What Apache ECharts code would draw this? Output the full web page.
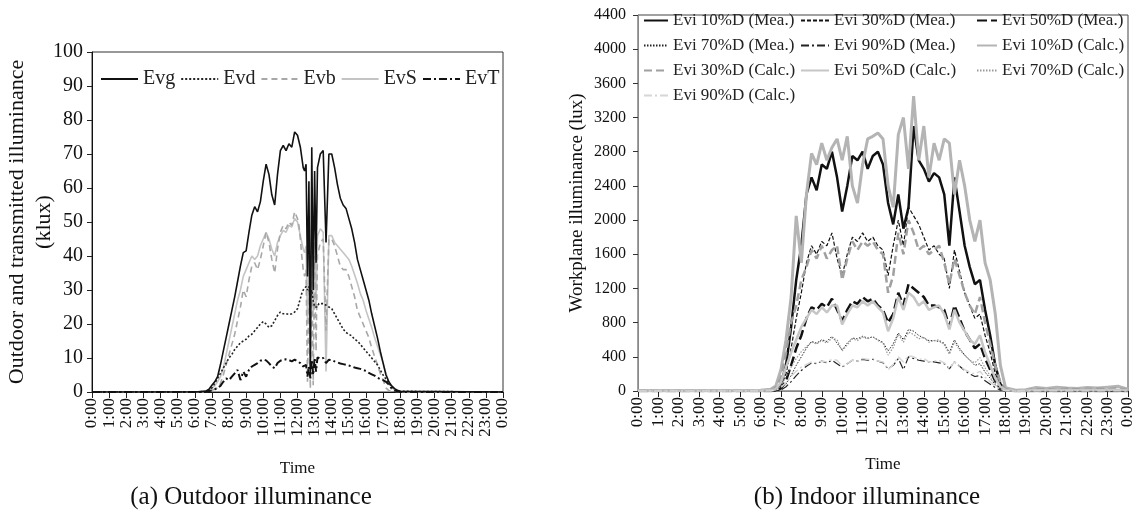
<!DOCTYPE html>
<html>
<head>
<meta charset="utf-8">
<script src="https://cdn.jsdelivr.net/npm/echarts@6/dist/echarts.min.js"></script>
<style>
  html, body { margin: 0; padding: 0; background: #fff; }
  #main { width: 1137px; height: 513px; }
</style>
</head>
<body>
<div id="main"></div>
<script>
// ---- (a) outdoor illuminance, klux; time in minutes of the day ----
var timeA = [0, 360,
  400, 410, 420, 430, 440, 450, 460, 470, 480, 490, 500, 510, 520, 530, 540, 550, 560, 570, 580, 590, 600, 610, 620, 630, 640, 650, 660, 670, 680, 690, 700, 710, 720,
  725, 730, 735, 740, 745, 750, 755, 760, 765, 770, 775, 780, 785, 790, 795, 800,
  810, 820, 830, 840, 850, 860, 870, 880, 890, 900, 910, 920, 930, 940, 950, 960, 970, 980, 990, 1000, 1010, 1020, 1030, 1040, 1050, 1060, 1070, 1080,
  1440];
var evg = [0, 0,
  0.3, 0.8, 2.0, 3.0, 4.5, 8, 12, 16, 20, 24, 28, 32.5, 37, 41, 41.5, 47, 52, 54.5, 53, 56, 62, 67, 64, 58, 55, 64, 71, 72.5, 71, 73, 72, 76.5, 75.5,
  75, 72, 69, 66, 65, 67, 34, 62, 5, 72, 30, 65, 38, 66, 68, 70,
  71, 44, 70, 70, 66, 61, 57, 55, 54, 51, 48, 44, 39, 36, 33, 30, 27, 23, 19.5, 16, 12, 8.5, 5, 3, 1.8, 1, 0.5, 0.2,
  0];
var evd = [0, 0,
  0.2, 0.5, 1.2, 2.5, 4, 5.5, 7, 8.5, 10, 11, 12.5, 13.5, 14.5, 15, 15.5, 16.5, 17, 18, 19, 20, 20.7, 20, 19, 19.5, 21, 22.5, 23.5, 23, 23, 22.8, 23, 23.5, 24.5,
  26, 27.5, 29, 30, 30.5, 31, 30, 31, 28, 30, 27, 25, 24.5, 25, 26, 26.5,
  26, 25.5, 25, 24.5, 23, 21.5, 20, 18.5, 17.5, 17, 16.5, 15.5, 15, 14, 13, 12, 11, 10, 9, 8, 6.5, 5, 3.8, 2.6, 1.6, 0.8, 0.4, 0.2,
  0];
var evb = [0, 0,
  0, 0.2, 0.5, 0.8, 1.2, 2.5, 5, 8, 11, 14, 17, 21, 25, 30, 28, 33, 37, 38, 36, 39, 43, 47, 44, 39, 35, 42, 47, 49, 48, 50, 49, 53, 51,
  49, 45, 40, 36, 34, 36, 3, 31, 1, 42, 2, 40, 12, 41, 42, 44,
  45, 18, 45, 45, 43, 40, 37, 36, 36, 34, 31, 28, 24, 22, 20, 18, 16, 13, 10.5, 8, 5.5, 3.5, 1.2, 0.4, 0.2, 0.2, 0.1, 0,
  0];
var evs = [0, 0,
  0.2, 0.5, 1, 1.8, 3, 4.5, 7, 11, 15, 19, 23, 27, 30, 34, 36, 38, 40, 39, 40, 43, 45, 47, 45, 42, 40, 44, 46, 47.5, 47, 49, 48.5, 51, 50,
  48, 46, 44, 42, 41, 43, 20, 40, 8, 46, 22, 44, 25, 46, 47, 48,
  47, 6, 46, 46, 44, 43, 42, 41, 40, 39, 37, 34.5, 32, 29, 27, 24, 21.5, 19, 16, 13.5, 11, 8.5, 5.5, 3, 1.5, 0.6, 0.3, 0.1,
  0];
var evt = [0, 0,
  0, 0.2, 0.5, 0.8, 1.2, 1.8, 3, 4, 3.5, 4.5, 5.5, 6.5, 3.5, 6, 4.5, 6.5, 7.5, 8, 8.5, 9.2, 9.5, 9.3, 8.5, 7.5, 7, 8.5, 9.2, 9.5, 9.6, 9.4, 9, 9.5, 9,
  8.8, 8.5, 8, 7.5, 7.8, 8, 4.5, 7.5, 4, 9.5, 5, 10, 6, 10.2, 10, 9.8,
  10, 8.5, 9.5, 9.4, 9, 8.7, 8.4, 8.2, 8, 7.8, 7.5, 7.2, 7, 6.8, 6.5, 6.2, 5.6, 5.2, 4.8, 4.2, 3.8, 3.5, 3, 2.2, 1, 0.4, 0.2, 0,
  0];

// ---- (b) indoor workplane illuminance, lux ----
var timeB = [0, 360,
  390, 405, 420, 435, 450, 465, 480, 495, 510, 525, 540, 555, 570, 585, 600, 615, 630, 645, 660, 675, 690, 705, 720,
  735, 750, 765, 780, 795, 810, 825, 840, 855, 870, 885, 900, 915, 930, 945, 960, 975, 990, 1005, 1020, 1035, 1050, 1065, 1080,
  1110, 1140, 1170, 1200, 1230, 1260, 1290, 1320, 1350, 1380, 1410, 1440];
var m10 = [0, 0,
  0, 10, 80, 300, 750, 1300, 1700, 2300, 2500, 2350, 2650, 2600, 2800, 2500, 2100, 2400, 2750, 2700, 2800, 2600, 2750, 2800, 2650,
  2200, 1950, 2300, 1900, 2150, 3100, 2700, 2600, 2450, 2550, 2500, 2300, 1700, 2500, 2100, 1700, 1450, 1250, 1300, 950, 650, 300, 80, 10,
  0, 0, 0, 0, 0, 0, 0, 0, 0, 0, 0, 0];
var m30 = [0, 0,
  0, 5, 50, 200, 500, 850, 1150, 1500, 1700, 1600, 1750, 1700, 1850, 1550, 1350, 1600, 1800, 1750, 1850, 1750, 1800, 1700, 1650,
  1350, 1700, 2000, 1700, 2150, 2050, 1950, 1800, 1650, 1700, 1600, 1550, 1200, 1650, 1400, 1150, 1000, 850, 900, 650, 450, 200, 50, 5,
  0, 0, 0, 0, 0, 0, 0, 0, 0, 0, 0, 0];
var m50 = [0, 0,
  0, 5, 30, 120, 300, 500, 650, 850, 980, 950, 1020, 980, 1080, 950, 820, 950, 1050, 1020, 1100, 1050, 1080, 1000, 950,
  800, 900, 1150, 1000, 1250, 1200, 1150, 1100, 1000, 1000, 980, 950, 750, 1000, 850, 700, 600, 500, 550, 380, 250, 110, 30, 5,
  0, 0, 0, 0, 0, 0, 0, 0, 0, 0, 0, 0];
var m70 = [0, 0,
  0, 3, 20, 80, 180, 300, 400, 500, 580, 560, 600, 580, 640, 560, 480, 560, 620, 610, 640, 620, 630, 600, 570,
  470, 550, 680, 600, 720, 700, 650, 620, 590, 590, 580, 560, 450, 600, 500, 420, 360, 300, 320, 220, 150, 70, 20, 3,
  0, 0, 0, 0, 0, 0, 0, 0, 0, 0, 0, 0];
var m90 = [0, 0,
  0, 2, 10, 50, 110, 180, 240, 290, 330, 320, 350, 330, 360, 320, 280, 320, 360, 350, 370, 360, 370, 350, 330,
  260, 300, 380, 250, 400, 380, 360, 350, 340, 340, 330, 320, 260, 340, 290, 240, 200, 170, 180, 120, 80, 40, 10, 2,
  0, 0, 0, 0, 0, 0, 0, 0, 0, 0, 0, 0];
var c10 = [5, 10,
  20, 60, 250, 600, 1100, 2050, 1500, 2300, 2780, 2650, 2900, 2700, 2850, 2950, 2700, 2980, 2400, 2200, 2650, 2950, 2980, 3020, 2950,
  2400, 2150, 3000, 3200, 2600, 3450, 2700, 3100, 2500, 2900, 2700, 2950, 2900, 2300, 2700, 2400, 2000, 1750, 2000, 1500, 1300, 900, 300, 40,
  10, 15, 40, 30, 45, 35, 30, 40, 35, 45, 55, 20];
var c30 = [5, 8,
  10, 40, 150, 450, 800, 1000, 1300, 1450, 1650, 1550, 1700, 1550, 1650, 1700, 1300, 1550, 1750, 1650, 1750, 1700, 1750, 1650, 1600,
  1150, 1350, 1850, 1600, 2000, 1850, 1650, 1700, 1600, 1650, 1700, 1500, 1250, 1550, 1350, 1150, 1000, 900, 1100, 800, 550, 300, 100, 20,
  5, 10, 20, 25, 15, 30, 20, 25, 30, 20, 35, 10];
var c50 = [3, 5,
  5, 20, 100, 280, 450, 600, 750, 850, 950, 900, 980, 920, 1000, 1000, 780, 900, 1000, 980, 1050, 1000, 1050, 980, 920,
  700, 850, 1100, 950, 1150, 1100, 1000, 1050, 950, 980, 1000, 900, 720, 950, 800, 700, 600, 550, 650, 450, 300, 150, 50, 10,
  3, 5, 10, 8, 12, 10, 8, 12, 10, 12, 15, 5];
var c70 = [0, 0,
  3, 15, 60, 170, 280, 380, 460, 520, 570, 550, 590, 560, 620, 600, 470, 540, 610, 590, 630, 610, 640, 590, 560,
  420, 510, 660, 570, 690, 660, 610, 630, 570, 590, 600, 540, 430, 570, 480, 420, 360, 330, 390, 270, 180, 90, 30, 5,
  0, 0, 0, 0, 0, 0, 0, 0, 0, 0, 0, 0];
var c90 = [0, 0,
  2, 10, 40, 100, 170, 230, 280, 310, 340, 330, 350, 340, 370, 360, 290, 320, 360, 350, 380, 370, 380, 350, 340,
  250, 310, 400, 340, 410, 400, 370, 380, 340, 350, 360, 330, 260, 340, 290, 250, 220, 200, 230, 160, 110, 55, 20, 3,
  0, 0, 0, 0, 0, 0, 0, 0, 0, 0, 0, 0];

var ticksA = [0, 10, 20, 30, 40, 50, 60, 70, 80, 90, 100];
var ticksB = [0, 400, 800, 1200, 1600, 2000, 2400, 2800, 3200, 3600, 4000, 4400];

var serif = '"Liberation Serif", "Times New Roman", serif';

function pairs(times, vals) {
  return times.map(function (t, i) { return [t, vals[i]]; });
}
function line(name, idx, times, vals, color, width, dash) {
  return {
    name: name, type: 'line', xAxisIndex: idx, yAxisIndex: idx,
    data: pairs(times, vals),
    symbol: 'none', showSymbol: false, animation: false,
    lineStyle: { color: color, width: width, type: dash },
    itemStyle: { color: color }
  };
}
function hourLabel(v) {
  return (Math.round(v / 60) % 24) + ':00';
}
function xAxisFor(idx, fs, gap) {
  return {
    gridIndex: idx, type: 'value', min: 0, max: 1440, interval: 60,
    name: 'Time', nameLocation: 'middle', nameGap: gap,
    nameTextStyle: { fontFamily: serif, fontSize: 17, color: '#111' },
    axisLine: { lineStyle: { color: idx === 0 ? '#111' : '#888', width: 1 } },
    axisTick: { length: 6, lineStyle: { color: '#222' } },
    axisLabel: { rotate: 90, margin: 6, fontFamily: serif, fontSize: fs, color: '#111', formatter: hourLabel },
    splitLine: { show: false }
  };
}
// legend icons: line only, no marker
var noMarker = { opacity: 0, color: 'rgba(0,0,0,0)', borderWidth: 0 };

var option = {
  backgroundColor: '#fff',
  animation: false,
  grid: [
    { left: 92, top: 52, width: 411, height: 340, show: true, borderColor: '#333', borderWidth: 1, outerBoundsMode: 'none' },
    { left: 638, top: 15, width: 490, height: 376, show: true, borderColor: '#444', borderWidth: 1, outerBoundsMode: 'none' }
  ],
  xAxis: [xAxisFor(0, 17, 68), xAxisFor(1, 17, 65)],
  yAxis: [
    {
      gridIndex: 0, type: 'value', min: ticksA[0], max: ticksA[ticksA.length - 1], interval: ticksA[1] - ticksA[0],
      name: 'Outdoor and transmitted illuminance\n(klux)', nameLocation: 'middle', nameGap: 34, nameMoveOverlap: false,
      nameTextStyle: { fontFamily: serif, fontSize: 22, lineHeight: 27, color: '#111' },
      axisLine: { show: true, lineStyle: { color: '#111' } },
      axisTick: { show: true, length: 5, lineStyle: { color: '#222' } },
      axisLabel: { margin: 9, fontFamily: serif, fontSize: 20, color: '#111' },
      splitLine: { show: false }
    },
    {
      gridIndex: 1, type: 'value', min: ticksB[0], max: ticksB[ticksB.length - 1], interval: ticksB[1] - ticksB[0],
      name: 'Workplane illuminance (lux)', nameLocation: 'middle', nameGap: 51, nameMoveOverlap: false,
      nameTextStyle: { fontFamily: serif, fontSize: 19, color: '#111' },
      axisLine: { show: true, lineStyle: { color: '#888' } },
      axisTick: { show: true, length: 5, lineStyle: { color: '#333' } },
      axisLabel: { margin: 12, fontFamily: serif, fontSize: 16, color: '#111', formatter: function (v) { return String(v); } },
      splitLine: { show: false }
    }
  ],
  legend: [
    {
      data: ['Evg', 'Evd', 'Evb', 'EvS', 'EvT'], left: 100, top: 69, padding: 0,
      itemWidth: 37, itemHeight: 14, itemGap: 5, itemStyle: noMarker,
      textStyle: { fontFamily: serif, fontSize: 20, color: '#222' }
    },
    {
      data: ['Evi 10%D (Mea.)', 'Evi 70%D (Mea.)', 'Evi 30%D (Calc.)', 'Evi 90%D (Calc.)'],
      orient: 'vertical', left: 643, top: 12, padding: 0, itemWidth: 24, itemHeight: 14, itemGap: 8, itemStyle: noMarker,
      textStyle: { fontFamily: serif, fontSize: 17, color: '#222' }
    },
    {
      data: ['Evi 30%D (Mea.)', 'Evi 90%D (Mea.)', 'Evi 50%D (Calc.)'],
      orient: 'vertical', left: 800, top: 12, padding: 0, itemWidth: 28, itemHeight: 14, itemGap: 8, itemStyle: noMarker,
      textStyle: { fontFamily: serif, fontSize: 17, color: '#222' }
    },
    {
      data: ['Evi 50%D (Mea.)', 'Evi 10%D (Calc.)', 'Evi 70%D (Calc.)'],
      orient: 'vertical', left: 976, top: 12, padding: 0, itemWidth: 20, itemHeight: 14, itemGap: 8, itemStyle: noMarker,
      textStyle: { fontFamily: serif, fontSize: 17, color: '#222' }
    }
  ],
  graphic: [
    { type: 'text', x: 251, y: 497, style: { text: '(a) Outdoor illuminance', fontFamily: serif, fontSize: 25, fill: '#111', align: 'center', verticalAlign: 'middle' } },
    { type: 'text', x: 867, y: 497, style: { text: '(b) Indoor illuminance', fontFamily: serif, fontSize: 25, fill: '#111', align: 'center', verticalAlign: 'middle' } }
  ],
  series: [
    line('EvS', 0, timeA, evs, '#c4c4c4', 1.6, 'solid'),
    line('Evb', 0, timeA, evb, '#a8a8a8', 1.6, [6, 4]),
    line('Evd', 0, timeA, evd, '#222', 1.6, [2, 2]),
    line('EvT', 0, timeA, evt, '#111', 2, [8, 3, 2, 3]),
    line('Evg', 0, timeA, evg, '#111', 1.6, 'solid'),

    line('Evi 10%D (Mea.)', 1, timeB, m10, '#111', 2.5, 'solid'),
    line('Evi 30%D (Mea.)', 1, timeB, m30, '#111', 1.2, [4, 2]),
    line('Evi 50%D (Mea.)', 1, timeB, m50, '#111', 2.5, [10, 4]),
    line('Evi 70%D (Mea.)', 1, timeB, m70, '#222', 1, [1.5, 1.5]),
    line('Evi 90%D (Mea.)', 1, timeB, m90, '#222', 1.2, [8, 3, 2, 3]),
    line('Evi 10%D (Calc.)', 1, timeB, c10, '#b4b4b4', 3, 'solid'),
    line('Evi 30%D (Calc.)', 1, timeB, c30, '#a0a0a0', 2.5, [8, 4]),
    line('Evi 50%D (Calc.)', 1, timeB, c50, '#c6c6c6', 2.5, 'solid'),
    line('Evi 70%D (Calc.)', 1, timeB, c70, '#999', 1.2, [1.5, 1.5]),
    line('Evi 90%D (Calc.)', 1, timeB, c90, '#d6d6d6', 1.5, [8, 3, 2, 3])
  ]
};

var myChart = echarts.init(document.getElementById('main'));
myChart.setOption(option);
</script>
</body>
</html>
